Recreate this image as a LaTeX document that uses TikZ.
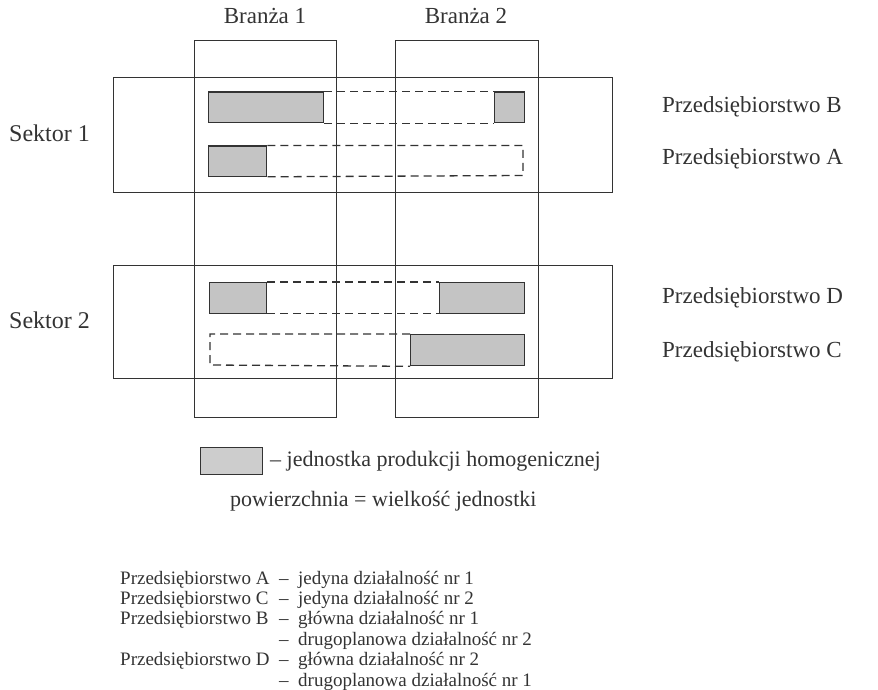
\documentclass[tikz,border=0pt]{standalone}
\usepackage{fontspec}
\setmainfont{Liberation Serif}
\definecolor{ink}{HTML}{333333}
\definecolor{stip}{HTML}{C4C4C4}
\tikzset{
  frame/.style={draw=ink, line width=1.3pt, rectangle, inner sep=0pt, anchor=north west},
  unit/.style={draw=ink, line width=1.3pt, fill=stip, rectangle, inner sep=0pt, anchor=north west},
  dline/.style={draw=ink, line width=1.3pt, dash pattern=on 8pt off 5pt},
  lab/.style={text=ink, font=\fontsize{23}{26}\selectfont, inner sep=0pt},
  sek/.style={text=ink, font=\fontsize{24}{26}\selectfont, inner sep=0pt, anchor=west},
  leg/.style={text=ink, font=\fontsize{22}{24}\selectfont, inner sep=0pt, anchor=west},
  lst/.style={text=ink, font=\fontsize{19}{21}\selectfont, inner sep=0pt, anchor=base west}
}
\begin{document}
\begin{tikzpicture}[x=1pt,y=-1pt]
\useasboundingbox (0,0) rectangle (878,690);
% frames
\node[frame, minimum width=142pt, minimum height=377pt] (br1) at (194,40) {};
\node[frame, minimum width=143pt, minimum height=377pt] (br2) at (395,40) {};
\node[frame, minimum width=499pt, minimum height=115pt] (sek1) at (113,77) {};
\node[frame, minimum width=499pt, minimum height=113pt] (sek2) at (113,265) {};
% units
\node[unit, minimum width=115pt, minimum height=30.5pt] (B1) at (208,91.5) {};
\node[unit, minimum width=30pt, minimum height=30.5pt] (B2) at (494,91.5) {};
\node[unit, minimum width=58pt, minimum height=30pt] (A1) at (208,145.5) {};
\node[unit, minimum width=57pt, minimum height=30.5pt] (D1) at (209,282) {};
\node[unit, minimum width=85pt, minimum height=30.5pt] (D2) at (439,282) {};
\node[unit, minimum width=114pt, minimum height=31pt] (C2) at (410,334) {};
\coordinate (Ane) at (523,145.5);
\coordinate (Ase) at (523,175.5);
\coordinate (Cnw) at (210,334);
\coordinate (Csw) at (210,365);
% dashed links
\draw[dline] (B1.north east) -- (B2.north west);
\draw[dline] (B1.south east) -- (B2.south west);
\draw[dline] (A1.north east) -- (Ane) -- (Ase) -- (A1.south east);
\draw[dline] (D1.north east) -- (D2.north west);
\draw[dline] (D1.south east) -- (D2.south west);
\draw[dline] (C2.north west) -- (Cnw) -- (Csw) -- (C2.south west);
% labels
\node[lab] (lb1) at (265,16) {Branża 1};
\node[lab] (lb2) at (466,16) {Branża 2};
\node[sek] (ls1) at (9,133) {Sektor 1};
\node[sek] (ls2) at (9,320) {Sektor 2};
\node[lab, anchor=west] (pB) at (662,107) {Przedsiębiorstwo B};
\node[lab, anchor=west] (pA) at (662,159) {Przedsiębiorstwo A};
\node[lab, anchor=west] (pD) at (662,298) {Przedsiębiorstwo D};
\node[lab, anchor=west] (pC) at (662,352) {Przedsiębiorstwo C};
% legend
\node[unit, minimum width=62pt, minimum height=27pt, fill=stip!85] (key) at (200,447) {};
\node[leg] (keytxt) at (270,461) {– jednostka produkcji homogenicznej};
\node[leg] (area) at (230,501) {powierzchnia = wielkość jednostki};
% list
\node[lst] (n1) at (120,584) {Przedsiębiorstwo A};
\node[lst] (n2) at (120,604.4) {Przedsiębiorstwo C};
\node[lst] (n3) at (120,624.8) {Przedsiębiorstwo B};
\node[lst] (n5) at (120,665.6) {Przedsiębiorstwo D};
\node[lst] (d1) at (279,584) {–};
\node[lst] (d2) at (279,604.4) {–};
\node[lst] (d3) at (279,624.8) {–};
\node[lst] (d4) at (279,645.2) {–};
\node[lst] (d5) at (279,665.6) {–};
\node[lst] (d6) at (279,686) {–};
\node[lst] (t1) at (298,584) {jedyna działalność nr 1};
\node[lst] (t2) at (298,604.4) {jedyna działalność nr 2};
\node[lst] (t3) at (298,624.8) {główna działalność nr 1};
\node[lst] (t4) at (298,645.2) {drugoplanowa działalność nr 2};
\node[lst] (t5) at (298,665.6) {główna działalność nr 2};
\node[lst] (t6) at (298,686) {drugoplanowa działalność nr 1};
\end{tikzpicture}
\end{document}
